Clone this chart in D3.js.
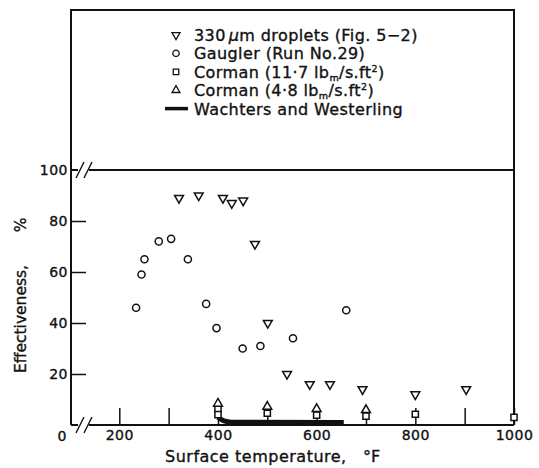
<!DOCTYPE html>
<html>
<head>
<meta charset="utf-8">
<script src="https://cdn.jsdelivr.net/npm/d3@7"></script>
<style>
  body { margin: 0; background: #fff; }
  text { font-family: "DejaVu Sans", sans-serif; fill: #111; stroke: #111; stroke-width: 0.35px; }
</style>
</head>
<body>
<div id="wrapper"></div>
<script>
// data (surface temperature in °F, effectiveness in %)
const dropletTemp = [321, 361, 410, 428, 451, 475, 501, 540, 586, 627, 693, 800, 903];
const dropletEff  = [89, 90, 89, 87, 88, 71, 40, 20, 16, 16, 14, 12, 14];

const gauglerTemp = [234, 245, 251, 280, 305, 339, 376, 397, 450, 486, 552, 660];
const gauglerEff  = [46, 59, 65, 72, 73, 65, 47.5, 38, 30, 31, 34, 45];

const corman117Temp = [400, 400, 500, 600, 700, 800, 1000];
const corman117Eff  = [6.1, 4.1, 4.6, 3.9, 3.5, 4.2, 3.0];

const corman48Temp = [400, 500, 600, 700];
const corman48Eff  = [8.4, 7.2, 6.3, 5.9];

const wachtersTemp = [400, 412, 428, 655];
const wachtersEff  = [3, 1.6, 1.1, 1.0];

const xTicks = [200, 300, 400, 500, 600, 700, 800, 900, 1000];
const xTickLabels = [200, 400, 600, 800, 1000];
const yTicks = [20, 40, 60, 80, 100];

const legendLabels = [
    [["330", ""], ["μ", "italic"], ["m droplets (Fig. 5−2)", ""]],
    [["Gaugler (Run No.29)", ""]],
    [["Corman (11·7 lb", ""], ["m", "sub"], ["/s.ft", ""], ["2", "sup"], [")", ""]],
    [["Corman (4·8 lb", ""], ["m", "sub"], ["/s.ft", ""], ["2", "sup"], [")", ""]],
    [["Wachters and Westerling", ""]]
];
const legendSymbols = ["down", "circle", "square", "up", "line"];

const zip = (a, b) => a.map((d, i) => ({ t: d, e: b[i] }));

function drawChart() {

    const dms = {
        width: 539,
        height: 468,
        left: 71,
        right: 514,
        top: 10,
        bottom: 425
    };

    const svg = d3.select("#wrapper")
        .append("svg")
            .attr("width", dms.width)
            .attr("height", dms.height);

    // scales
    const xScale = d3.scaleLinear()
        .domain([200, 1000])
        .range([119.3, dms.right]);

    const yScale = d3.scaleLinear()
        .domain([0, 100])
        .range([dms.bottom, 170]);

    const ink = "#111";

    // axes (ticks point inward)
    const yAxis = svg.append("g")
        .attr("transform", `translate(${dms.left},0)`)
        .call(d3.axisLeft(yScale)
            .tickValues(yTicks)
            .tickSizeInner(-15)
            .tickSizeOuter(0)
            .tickPadding(3));
    yAxis.select(".domain").remove();
    yAxis.selectAll(".tick line")
        .attr("stroke", ink)
        .attr("stroke-width", 1.5)
        .filter(d => d === 100).remove();
    yAxis.selectAll("text")
        .attr("font-size", 14)
        .attr("font-family", "DejaVu Sans")
        .attr("letter-spacing", 0.5)
        .attr("fill", ink);

    const xAxis = svg.append("g")
        .attr("transform", `translate(0,${dms.bottom})`)
        .call(d3.axisBottom(xScale)
            .tickValues(xTicks)
            .tickSizeInner(-17)
            .tickSizeOuter(0)
            .tickPadding(5)
            .tickFormat(d => xTickLabels.includes(d) ? d : ""));
    xAxis.select(".domain").remove();
    xAxis.selectAll(".tick line")
        .attr("stroke", ink)
        .attr("stroke-width", 1.5);
    xAxis.selectAll("text")
        .attr("font-size", 14)
        .attr("font-family", "DejaVu Sans")
        .attr("letter-spacing", 0.5)
        .attr("fill", ink);

    // "0" at the broken corner
    svg.append("text")
        .attr("x", dms.left - 9)
        .attr("y", dms.bottom + 15.5)
        .attr("text-anchor", "middle")
        .attr("font-size", 14)
        .text("0");

    // frame with breaks at 0 and 100
    const frame = svg.append("g")
        .attr("stroke", ink)
        .attr("stroke-width", 2)
        .attr("fill", "none");

    frame.append("path")
        .attr("d", `M${dms.left},${dms.bottom}V${dms.top}H${dms.right}V${dms.bottom}`);

    [0, 100].forEach(v => {
        const y = yScale(v);
        frame.append("line")
            .attr("x1", dms.left).attr("x2", dms.left + 7)
            .attr("y1", y).attr("y2", y);
        frame.append("line")
            .attr("x1", dms.left + 18).attr("x2", dms.right)
            .attr("y1", y).attr("y2", y);
        [5, 13].forEach(dx => {
            frame.append("line")
                .attr("stroke-width", 1.4)
                .attr("x1", dms.left + dx).attr("y1", y + 8)
                .attr("x2", dms.left + dx + 8).attr("y2", y - 8);
        });
    });

    // Wachters and Westerling band
    const line = d3.line()
        .x(d => xScale(d.t))
        .y(d => yScale(d.e))
        .curve(d3.curveMonotoneX);

    svg.append("path")
        .datum(zip(wachtersTemp, wachtersEff))
        .attr("d", line)
        .attr("fill", "none")
        .attr("stroke", ink)
        .attr("stroke-width", 5);

    // markers
    const symbols = {
        down: { type: d3.symbolTriangle, size: 34, rot: 180 },
        up: { type: d3.symbolTriangle, size: 34, rot: 0 },
        circle: { type: d3.symbolCircle, size: 40, rot: 0 },
        square: { type: d3.symbolSquare, size: 38, rot: 0 }
    };

    const drawMarkers = (data, kind) => {
        const s = symbols[kind];
        svg.append("g")
            .selectAll("path")
            .data(data)
            .join("path")
                .attr("d", d3.symbol().type(s.type).size(s.size))
                .attr("transform", d => `translate(${xScale(d.t)},${yScale(d.e)}) rotate(${s.rot})`)
                .attr("fill", "#fff")
                .attr("stroke", ink)
                .attr("stroke-width", 1.5);
    };

    drawMarkers(zip(corman117Temp, corman117Eff), "square");
    drawMarkers(zip(corman48Temp, corman48Eff), "up");
    drawMarkers(zip(gauglerTemp, gauglerEff), "circle");
    drawMarkers(zip(dropletTemp, dropletEff), "down");

    // legend
    const legendY = d3.scaleLinear().domain([0, 1]).range([35, 53.4]);
    const legend = svg.append("g");

    legendLabels.forEach((parts, i) => {
        const y = legendY(i);
        const kind = legendSymbols[i];
        if (kind === "line") {
            legend.append("line")
                .attr("x1", 165).attr("x2", 188)
                .attr("y1", y).attr("y2", y)
                .attr("stroke", ink)
                .attr("stroke-width", 3.5);
        } else {
            const s = symbols[kind];
            legend.append("path")
                .attr("d", d3.symbol().type(s.type).size(s.size * 0.8))
                .attr("transform", `translate(176,${y}) rotate(${s.rot})`)
                .attr("fill", "#fff")
                .attr("stroke", ink)
                .attr("stroke-width", 1.3);
        }

        const text = legend.append("text")
            .attr("x", 194)
            .attr("y", y + 6)
            .attr("font-size", 16)
            .attr("letter-spacing", 0.4);

        parts.forEach(([str, style]) => {
            const ts = text.append("tspan").text(str);
            if (style === "italic") ts.attr("font-style", "italic").attr("dx", 3);
            if (style === "sub") ts.attr("font-size", 9.5).attr("baseline-shift", -2.5);
            if (style === "sup") ts.attr("font-size", 9.5).attr("baseline-shift", 6);
        });
    });

    // axis titles
    svg.append("text")
        .attr("x", 165)
        .attr("y", 462)
        .attr("font-size", 16)
        .attr("letter-spacing", 0.5)
        .text("Surface temperature,");

    svg.append("text")
        .attr("x", 363)
        .attr("y", 462)
        .attr("font-size", 16)
        .text("°F");

    svg.append("text")
        .attr("transform", "translate(26,319) rotate(-90)")
        .attr("text-anchor", "middle")
        .attr("font-size", 15.5)
        .text("Effectiveness,");

    svg.append("text")
        .attr("transform", "translate(26,225) rotate(-90)")
        .attr("text-anchor", "middle")
        .attr("font-size", 15.5)
        .text("%");
}

drawChart();
</script>
</body>
</html>
